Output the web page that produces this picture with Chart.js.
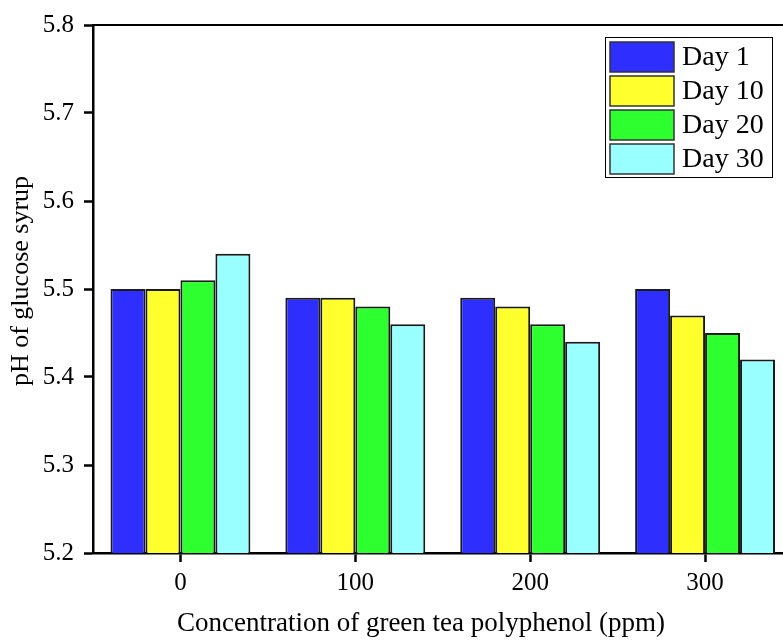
<!DOCTYPE html>
<html>
<head>
<meta charset="utf-8">
<script src="https://cdn.jsdelivr.net/npm/chart.js@4"></script>
<style>
  html, body { margin: 0; padding: 0; background: #fff; overflow: hidden; }
  #wrap { width: 810px; height: 640px; }
</style>
</head>
<body>
<div id="wrap"><canvas id="phChart" width="810" height="640"></canvas></div>
<script>
const concentrations = ["0", "100", "200", "300"];
const day1 = [5.50, 5.49, 5.49, 5.50];
const day10 = [5.50, 5.49, 5.48, 5.47];
const day20 = [5.51, 5.48, 5.46, 5.45];
const day30 = [5.54, 5.46, 5.44, 5.42];
const seriesNames = ["Day 1", "Day 10", "Day 20", "Day 30"];
const seriesColors = ["#2e2eff", "#ffff2e", "#2eff2e", "#99ffff"];

const FONT = "'Liberation Serif', 'Times New Roman', serif";

// axis titles, top frame line and boxed legend
const decorations = {
  id: "decorations",
  afterDraw(chart) {
    const ctx = chart.ctx;
    const area = chart.chartArea;
    ctx.save();
    ctx.strokeStyle = "#000";
    ctx.lineWidth = 2;
    ctx.beginPath();
    ctx.moveTo(area.left - 1, area.top);
    ctx.lineTo(chart.width, area.top);
    ctx.stroke();

    ctx.fillStyle = "#000";
    ctx.font = "27px " + FONT;
    ctx.textAlign = "center";
    ctx.textBaseline = "middle";
    ctx.fillText("Concentration of green tea polyphenol (ppm)", 421, 624);

    ctx.font = "26px " + FONT;
    ctx.translate(21, 281);
    ctx.rotate(-Math.PI / 2);
    ctx.fillText("pH of glucose syrup", 0, 0);
    ctx.restore();

    // legend
    ctx.save();
    ctx.strokeStyle = "#000";
    ctx.lineWidth = 1;
    ctx.strokeRect(605.5, 37.5, 167, 140);
    ctx.font = "28px " + FONT;
    ctx.textAlign = "left";
    ctx.textBaseline = "middle";
    chart.data.datasets.forEach((ds, i) => {
      const y = 42 + i * 34;
      ctx.fillStyle = ds.backgroundColor;
      ctx.fillRect(610, y, 64, 30);
      ctx.strokeStyle = "#333";
      ctx.lineWidth = 1.5;
      ctx.strokeRect(610, y, 64, 30);
      ctx.fillStyle = "#000";
      ctx.fillText(ds.label, 682, y + 16);
    });
    ctx.restore();
  }
};

const datasets = [day1, day10, day20, day30].map((vals, i) => ({
  label: seriesNames[i],
  data: vals,
  backgroundColor: seriesColors[i],
  borderColor: "#1a1a1a",
  borderWidth: 2,
  barPercentage: 1.0,
  categoryPercentage: 0.8
}));

new Chart(document.getElementById("phChart"), {
  type: "bar",
  data: { labels: concentrations, datasets },
  options: {
    responsive: false,
    animation: false,
    devicePixelRatio: 1,
    layout: { padding: { left: 0, top: 23, right: 17.5, bottom: 0 } },
    plugins: { legend: { display: false }, tooltip: { enabled: false } },
    scales: {
      x: {
        offset: true,
        grid: { display: true, drawOnChartArea: false, tickLength: 9, tickWidth: 2.5, tickColor: "#000", offset: false },
        border: { color: "#000", width: 2.5 },
        ticks: { color: "#000", font: { family: FONT, size: 25 }, padding: 6 },
        afterFit: scale => { scale.height = 87; }
      },
      y: {
        min: 5.2,
        max: 5.8,
        grid: { display: true, drawOnChartArea: false, tickLength: 9, tickWidth: 2.5, tickColor: "#000" },
        border: { color: "#000", width: 2.5 },
        ticks: {
          stepSize: 0.1,
          color: "#000",
          font: { family: FONT, size: 25 },
          padding: 10,
          callback: v => Number(v).toFixed(1)
        },
        afterFit: scale => { scale.width = 93; }
      }
    }
  },
  plugins: [decorations]
});
</script>
</body>
</html>
